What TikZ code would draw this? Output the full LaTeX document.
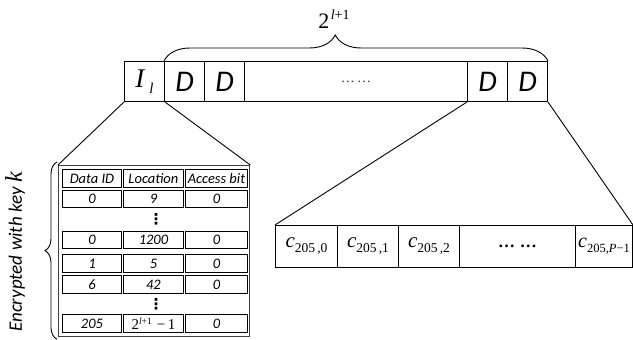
\documentclass[tikz,border=0pt]{standalone}
\usepackage{fontspec}
\setmainfont{Carlito}
\newfontfamily\tnr{Liberation Serif}
\newfontfamily\dvs{DejaVu Sans}
\usetikzlibrary{decorations.pathreplacing}

% helpers for the formula-like labels
\newcommand\fs[1]{\fontsize{#1}{#1}\selectfont}
\newcommand\cij[2]{{\tnr\fs{21}\itshape c}\raisebox{-5pt}{\tnr\fs{13.5}#1\,,#2}}
\newcommand\cil[2]{{\tnr\fs{20}\itshape c}\raisebox{-5pt}{\tnr\fs{12.5}#1,#2}}
\newcommand\lastloc{{\tnr\upshape\fs{15}2}\raisebox{5pt}{\tnr\fs{9.5}\itshape l\upshape +1}{\tnr\upshape\fs{15}\,\,−\,1}}

\begin{document}
\begin{tikzpicture}[x=1pt,y=-1pt,
  bar/.style={draw,line width=1pt,minimum height=40pt,inner sep=0pt,anchor=north west},
  dcell/.style={bar,minimum width=40pt,font=\fs{30}\itshape},
  tcell/.style={draw,line width=0.9pt,inner sep=0pt,anchor=north west,font=\fs{14.5}\itshape},
  ccell/.style={draw,line width=1pt,minimum height=42pt,inner sep=0pt,anchor=north west},
  vdot/.style={inner sep=0pt,font=\dvs\bfseries\fs{15}},
  link/.style={line width=0.9pt},
  brc/.style={line width=0.9pt,decorate}
]
\useasboundingbox (0,0) rectangle (633,340);

% the level array: index block followed by the data blocks
\node[dcell] (Il) at (124,61) {{\tnr\fs{27}I}\hspace{5pt}\raisebox{-6pt}{\tnr\fs{15}l}};
\node[dcell] (d1) at (164,61) {D};
\node[dcell] (d2) at (204,61) {D};
\node[bar,minimum width=223pt,font=\tnr\fs{14},text=black!80] (dm) at (244,61) {…\,…};
\node[dcell] (d3) at (467,61) {D};
\node[dcell] (d4) at (507,61) {D};

\draw[brc,decoration={brace,amplitude=26pt,aspect=0.446}] (d1.north west) -- (d4.north east);
\node (cnt) at (334,19) {{\tnr\fs{22}2}\hspace{1.5pt}\raisebox{9pt}{\tnr\fs{14}\itshape l\upshape +1}};

% encrypted index table
\node[draw=black!75,line width=1.3pt,minimum width=191pt,minimum height=171pt,inner sep=0pt,anchor=north west] (tbl) at (58,165) {};

\begin{scope}
\clip (tbl.north west) rectangle (tbl.south east);
\foreach \n/\y/\h/\a/\b/\c in {
  hd/169/18/Data ID/Location/Access bit,
  ra/190/17/0/9/0,
  rb/231/17/0/1200/0,
  rc/254/18/1/5/0,
  rd/275/18/6/42/0,
  re/314/18/205/\lastloc/0}{
  \node[tcell,minimum width=59pt,minimum height=\h pt] (\n-1) at (62,\y) {\a};
  \node[tcell,minimum width=60pt,minimum height=\h pt] (\n-2) at (123,\y) {\b};
  \node[tcell,minimum width=62pt,minimum height=\h pt] (\n-3) at (185,\y) {\c};
}
\end{scope}
\node[vdot] (va) at (156,219) {⋮};
\node[vdot] (vb) at (156,304) {⋮};

\draw[brc,decoration={brace,amplitude=12pt}] ([xshift=-1pt,yshift=-2pt]tbl.south west) -- ([xshift=-1pt,yshift=3pt]tbl.north west);
\node[rotate=90,font=\fs{19}\itshape] (enc) at (15,252) {Encrypted with key {\tnr\fs{24}k}};

% ciphertext blocks of one data block
\node[ccell,minimum width=62pt] (c0) at (275,225) {\cij{205}{0}};
\node[ccell,minimum width=61pt] (c1) at (337,225) {\cij{205}{1}};
\node[ccell,minimum width=61pt] (c2) at (398,225) {\cij{205}{2}};
\node[ccell,minimum width=116pt,font=\tnr\bfseries\fs{17}] (cd) at (459,225) {…\;…};
\node[ccell,minimum width=57pt] (cP) at (575,225) {\cil{205}{{\itshape P}−1}};

% zoom lines
\draw[link] (Il.south west) -- (tbl.north west);
\draw[link] (Il.south east) -- (tbl.north east);
\draw[link] (d3.south west) -- (c0.north west);
\draw[link] (d4.south east) -- (cP.north east);
\end{tikzpicture}
\end{document}
